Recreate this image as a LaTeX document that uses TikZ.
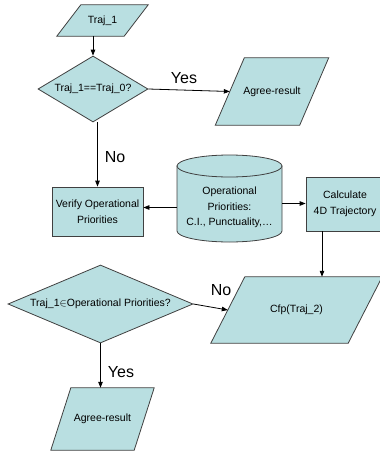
\documentclass[tikz,border=0pt]{standalone}
\usepackage{fontspec}
\setmainfont{Liberation Sans}
\usepackage{amsmath}
\usetikzlibrary{positioning,shapes.geometric,arrows.meta,backgrounds}

\definecolor{boxfill}{RGB}{185,223,225}
\tikzset{
  shapeline/.style={draw=black!75, line width=0.8pt, fill=boxfill},
  txt/.style={font=\fontsize{10.5}{15.5}\selectfont, align=center},
  iobox/.style={txt, rectangle, inner sep=0pt},
  procbox/.style={shapeline, txt, rectangle, inner sep=0pt},
  decbox/.style={shapeline, txt, diamond, inner sep=0pt},
  arr/.style={-{Triangle[length=6pt,width=4.5pt]}, line width=0.8pt},
  answer/.style={font=\fontsize{16}{18}\selectfont}
}

\begin{document}
\begin{tikzpicture}[x=1pt,y=-1pt]
    \useasboundingbox (0,0) rectangle (380,461);
    % Input / output boxes
    \node[iobox, minimum width=67pt, minimum height=31pt] (traj) at (102.5,20.5) {Traj\_1};
    \node[iobox, minimum width=84pt, minimum height=67pt] (agreeA) at (272,91.5) {Agree-result};
    \node[iobox, minimum width=137pt, minimum height=66pt] (cfp) at (296.5,310) {Cfp(Traj\_2)};
    \node[iobox, minimum width=83pt, minimum height=62pt] (agreeB) at (102.5,419) {Agree-result};
    \begin{scope}[on background layer]
      \foreach \n/\s in {traj/12pt, agreeA/14.5pt, cfp/17pt, agreeB/10pt} {
        \draw[shapeline] ([xshift=\s]\n.north west) -- ([xshift=\s]\n.north east)
          -- ([xshift=-\s]\n.south east) -- ([xshift=-\s]\n.south west) -- cycle;
      }
    \end{scope}
    % Decisions
    \node[decbox, shape aspect=1.67, minimum width=110pt, minimum height=66pt]
      (same) at (93,89) {Traj\_1==Traj\_0?};
    \node[decbox, shape aspect=2.37, minimum width=185pt, minimum height=78pt]
      (member) at (100.5,304) {Traj\_1$\in$Operational Priorities?};
    % Processes
    \node[procbox, minimum width=91pt, minimum height=49pt] (verify) at (97.5,211.5)
      {Verify Operational\\Priorities};
    \node[procbox, minimum width=78pt, minimum height=54pt] (calc) at (345,204)
      {Calculate\\4D Trajectory};
    % Data store
    \path[shapeline] (177,166) -- (177,231)
      arc[start angle=180, end angle=360, x radius=52.5pt, y radius=11pt]
      -- (282,166) -- cycle;
    \draw[shapeline] (229.5,166) ellipse[x radius=52.5pt, y radius=11pt];
    \node[txt, minimum width=105pt, inner sep=0pt] (prio) at (229.5,207.5)
      {Operational\\Priorities:\\C.I., Punctuality,\dots};
    % Connectors
    \draw[arr] (same.north |- traj.south) -- (same.north);
    \draw[arr] (same.east) -- (agreeA.west);
    \draw[arr] (same.south -| verify.north) -- (verify.north);
    \draw[arr] (prio.west) -- (verify.east |- prio.west);
    \coordinate (prioout) at ([yshift=4pt]prio.east);
    \draw[arr] (prioout) -- (calc.west |- prioout);
    \coordinate (drop) at (322,0);
    \draw[arr] (drop |- calc.south) -- (drop |- cfp.north);
    \draw[arr] (member.east) -- (cfp.west);
    \draw[arr] (member.south) -- (member.south |- agreeB.north);
    % Answer labels
    \node[answer] (yesA) at (184,78) {Yes};
    \node[answer] (noA) at (115,157) {No};
    \node[answer] (noB) at (221,290) {No};
    \node[answer] (yesB) at (121,372) {Yes};
\end{tikzpicture}
\end{document}
